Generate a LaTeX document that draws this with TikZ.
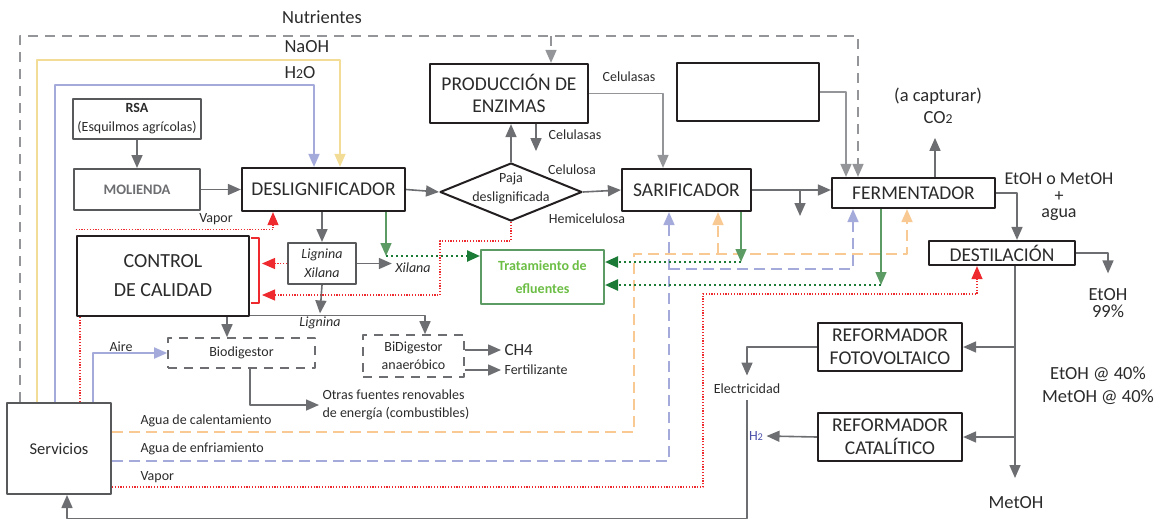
\documentclass[tikz,border=0pt]{standalone}
\usepackage{fontspec}
\usepackage{graphicx}
\setmainfont{Carlito}
\newcommand\osn[1]{\scalebox{0.74}{#1}}
\usetikzlibrary{arrows.meta,shapes.geometric}

\definecolor{lin}{HTML}{6D6E71}
\definecolor{linlight}{HTML}{939598}
\definecolor{edge}{HTML}{231F20}
\definecolor{edgegray}{HTML}{58595B}
\definecolor{txt}{HTML}{2B2B2B}
\definecolor{agcal}{HTML}{F9C993}
\definecolor{agenf}{HTML}{A4ABDB}
\definecolor{naohc}{HTML}{F3DC95}
\definecolor{vaporc}{HTML}{EE2A2F}
\definecolor{efl}{HTML}{5C9B63}
\definecolor{efldark}{HTML}{1B7A36}
\definecolor{efltxt}{HTML}{6CBE45}
\definecolor{hdosc}{HTML}{4B50A8}

\tikzset{
  box/.style={draw=edge, line width=2.2pt, fill=white, align=center, inner sep=2pt, font=\fontsize{19.5}{23}\selectfont},
  gbox/.style={draw=edgegray, line width=2pt, fill=white, align=center, inner sep=2pt},
  dbox/.style={draw=lin, line width=1.6pt, dash pattern=on 9pt off 7pt, align=center, font=\fontsize{14}{18}\selectfont},
  lab/.style={font=\fontsize{14}{18}\selectfont},
  biglab/.style={font=\fontsize{18.5}{22}\selectfont},
  flow/.style={draw=lin, line width=1.6pt, ->},
  flowl/.style={draw=linlight, line width=1.6pt, ->},
  nut/.style={draw=linlight, line width=1.6pt, dash pattern=on 10pt off 7pt, ->},
  naohl/.style={draw=naohc, line width=1.8pt, ->},
  h2ol/.style={draw=agenf, line width=1.8pt, ->},
  cal/.style={draw=agcal, line width=1.8pt, dash pattern=on 11pt off 6pt, ->},
  enf/.style={draw=agenf, line width=1.8pt, dash pattern=on 11pt off 6pt, ->},
  vapl/.style={draw=vaporc, line width=1.1pt, dash pattern=on 1.2pt off 1.6pt, ->},
  efls/.style={draw=efl, line width=1.4pt, ->},
  efld/.style={draw=efldark, line width=2.4pt, dash pattern=on 2.4pt off 2.6pt, ->}
}

\begin{document}
\begin{tikzpicture}[x=1pt, y=-1pt, line join=round, >={Triangle[length=13pt,width=11pt]},
  every node/.style={text=txt}]
\useasboundingbox (0,0) rectangle (1162,520);
%process boxes
\node[gbox, minimum width=128pt, minimum height=40pt, font=\fontsize{14}{19}\selectfont] (rsa) at (137,119) {\textbf{RSA}\\(Esquilmos agrícolas)};
\node[gbox, minimum width=126pt, minimum height=41pt, text=lin, font=\bfseries\fontsize{14.5}{17}\selectfont] (mol) at (137,189.5) {MOLIENDA};
\node[box, minimum width=163pt, minimum height=43pt] (desl) at (323.5,189.5) {DESLIGNIFICADOR};
\node[diamond, draw=edge, line width=2pt, minimum width=142pt, minimum height=58pt, inner sep=0pt] (paja) at (511,192) {};
\node[align=center, font=\fontsize{14}{19}\selectfont] (pajatxt) at (511,188) {Paja\\deslignificada};
\node[box, minimum width=158pt, minimum height=59pt, font=\fontsize{19.5}{22}\selectfont] (enz) at (509,93.5) {PRODUCCIÓN DE\\ENZIMAS};
\node[box, minimum width=142pt, minimum height=58pt] (vacio) at (748,92) {};
\node[box, minimum width=129pt, minimum height=42pt] (sar) at (686.5,190) {SARIFICADOR};
\node[box, minimum width=163pt, minimum height=30pt] (ferm) at (913.5,193) {FERMENTADOR};
\node[box, minimum width=146pt, minimum height=24pt, inner sep=1pt] (dest) at (1002,253) {DESTILACIÓN};
\node[box, minimum width=144pt, minimum height=48pt] (reffv) at (890,347) {REFORMADOR\\FOTOVOLTAICO};
\node[box, minimum width=144pt, minimum height=48pt] (refcat) at (890,437) {REFORMADOR\\CATALÍTICO};
\node[box, line width=2.6pt, minimum width=172pt, minimum height=80pt, font=\fontsize{20}{29}\selectfont] (cc) at (163,276) {CONTROL\\DE CALIDAD};
\node[gbox, minimum width=68pt, minimum height=41pt, font=\itshape\fontsize{14}{19}\selectfont] (ligxil) at (322,263.5) {Lignina\\Xilana};
\node[draw=efl, line width=2pt, fill=white, align=center, minimum width=123pt, minimum height=54pt, text=efltxt, font=\bfseries\fontsize{14}{23}\selectfont] (trat) at (542.5,277) {Tratamiento de\\efluentes};
\node[dbox, minimum width=147pt, minimum height=30pt] (bio) at (241.5,353) {Biodigestor};
\node[dbox, minimum width=101pt, minimum height=42pt] (bidig) at (413.5,356) {BiDigestor\\anaeróbico};
\node[gbox, minimum width=104pt, minimum height=91pt, font=\fontsize{16.5}{20}\selectfont] (serv) at (59,448.5) {Servicios};
%labels
\node[biglab] (nutri) at (322,17) {Nutrientes};
\node[biglab, anchor=west] (naoh) at (281,47) {NaOH};
\node[biglab, anchor=west] (hdoso) at (281,73) {H\osn{2}O};
\node[lab] (celu1) at (575,135) {Celulasas};
\node[lab] (celu2) at (629,77) {Celulasas};
\node[lab] (celulosa) at (572,170) {Celulosa};
\node[lab] (hemi) at (587,219) {Hemicelulosa};
\node[align=center, font=\fontsize{18.5}{22}\selectfont] (co2) at (938,106) {(a capturar)\\CO\osn{2}};
\node[align=center, font=\fontsize{18}{16.5}\selectfont] (etohmix) at (1059,197) {EtOH o MetOH\\+\\agua};
\node[align=center, font=\fontsize{18.5}{17}\selectfont] (etoh99) at (1108,303.5) {EtOH\\99\%};
\node[align=center, font=\fontsize{18.5}{23}\selectfont] (mezcla) at (1098,385.5) {EtOH @ 40\%\\MetOH @ 40\%};
\node[biglab] (metoh) at (1016,503) {MetOH};
\node[lab] (elec) at (747,389) {Electricidad};
\node[lab, text=hdosc] (hdos) at (756,436) {H\osn{2}};
\node[anchor=west, font=\fontsize{17}{18}\selectfont] (ch4) at (501,350) {CH4};
\node[lab, anchor=west] (fert) at (501,370) {Fertilizante};
\node[anchor=west, align=left, font=\fontsize{14}{18}\selectfont] (otras) at (319,405) {Otras fuentes renovables\\de energía (combustibles)};
\node[lab, font=\itshape\fontsize{14}{18}\selectfont] (xil) at (413,268) {Xilana};
\node[lab, font=\itshape\fontsize{14}{18}\selectfont] (lig) at (320,323) {Lignina};
\node[lab] (aire) at (121,347) {Aire};
\node[lab] (vaptop) at (216,219) {Vapor};
\node[lab, anchor=west] (acal) at (137,421) {Agua de calentamiento};
\node[lab, anchor=west] (aenf) at (137,449) {Agua de enfriamiento};
\node[lab, anchor=west] (avap) at (137,477) {Vapor};
%main line
\draw[flow] (rsa) -- (mol);
\draw[flow] (mol) -- (desl);
\draw[flow] (desl.east) -- (paja.west);
\draw[flow] (paja.north) -- (paja.north |- enz.south);
\draw[flow] ([xshift=27pt]enz.south) -- ++(0,27);
\draw[flowl] (enz.east) -| ([xshift=-23.5pt]sar.north);
\draw[flow] (paja.east) -- (sar.west);
\draw[flow] (sar.east) -- (sar.east -| ferm.west);
\draw[flow] (sar.east -| 800,0) -- ++(0,26);
\draw[flowl] (vacio.east) -| ([xshift=-67.5pt]ferm.north);
\draw[flow] ([xshift=21.5pt]ferm.north) -- ++(0,-39);
\draw[flow] (ferm.east) -| ([xshift=15pt]dest.north);
\draw[flow] (dest.east) -| ([yshift=12pt]etoh99.north);
\coordinate (dbase) at ([xshift=13pt]dest.south);
\draw[flow] (dbase) -- (dbase |- 0,478);
\draw[flow] (dbase |- reffv.east) -- (reffv.east);
\draw[flow] (dbase |- refcat.east) -- (refcat.east);
\draw[flow] (reffv.west) -| ([yshift=5pt]elec.north);
\draw[flow] (refcat.west) -- (hdos.east);
\draw[flow] ([yshift=-3pt]elec.south) -- (elec.south |- 0,518.5) -| ([xshift=8pt]serv.south);
%feeds from Servicios
\draw[nut] ([xshift=-39pt]serv.north) |- (551,36) -| ([xshift=-55.5pt]ferm.north);
\draw[nut] (551,36) -- ([xshift=42pt]enz.north);
\draw[naohl] ([xshift=-22pt]serv.north) |- (340,60) -- ([xshift=16.5pt]desl.north);
\draw[h2ol] ([xshift=-4pt]serv.north) |- (314,85) -- ([xshift=-9.5pt]desl.north);
\draw[h2ol] ([xshift=34pt]serv.north) |- (bio.west);
\draw[cal] ([yshift=16.5pt]serv.east) -| (634,254) -| ([xshift=-6.5pt]ferm.south);
\draw[cal] (718,254) -- ([xshift=31.5pt]sar.south);
\draw[enf] ([yshift=-12.5pt]serv.east) -| ([xshift=-17.5pt]sar.south);
\draw[enf] (669,269) -| ([xshift=-60.5pt]ferm.south);
%vapor
\draw[vapl] ([yshift=-38.5pt]serv.east) -| (703,294) -| ([xshift=-25pt]dest.south);
\draw[vapl, -] ([xshift=21pt]serv.north) -- ([xshift=21pt]serv.north |- cc.south);
\draw[vapl] ([yshift=5pt]cc.north west) -| ([xshift=-50.5pt]desl.south);
\draw[draw=vaporc, line width=2pt] (251,238) -| (259,303) -- (251,303);
\coordinate (bra) at (262,263.5);
\coordinate (brb) at (262,295);
\draw[vapl] (ligxil.west) -- (bra);
\draw[vapl] (paja.south) |- (440,241) |- (brb);
%effluents
\coordinate (gs) at ([xshift=54.5pt]sar.south |- 0,262);
\draw[efls] ([xshift=54.5pt]sar.south) -- (gs);
\draw[efld] (gs) -- (gs -| trat.east);
\coordinate (gf) at ([xshift=-32.5pt]ferm.south |- 0,285);
\draw[efls] ([xshift=-32.5pt]ferm.south) -- (gf);
\draw[efld] (gf) -- (gf -| trat.east);
\coordinate (gd) at ([xshift=62.5pt]desl.south |- 0,256);
\draw[efls] ([xshift=62.5pt]desl.south) -- (gd);
\draw[efld] (gd) -- (gd -| trat.west);
%lignina
\draw[flow] (ligxil.north |- desl.south) -- (ligxil.north);
\draw[flow] (ligxil.east) -- (ligxil.east -| xil.west);
\draw[flow] (ligxil.south) -- (lig.north);
\draw[flow] ([yshift=2pt]cc.south east) -| ([xshift=11.5pt]bidig.north);
\draw[flow] ([xshift=64pt]cc.south) -- ([xshift=64pt]cc.south |- bio.north);
\draw[flow] ([xshift=8.5pt]bio.south) |- (otras.west);
\draw[flow] (bidig.east |- ch4) -- (ch4.west);
\draw[flow] (bidig.east |- fert) -- (fert.west);
\end{tikzpicture}
\end{document}
